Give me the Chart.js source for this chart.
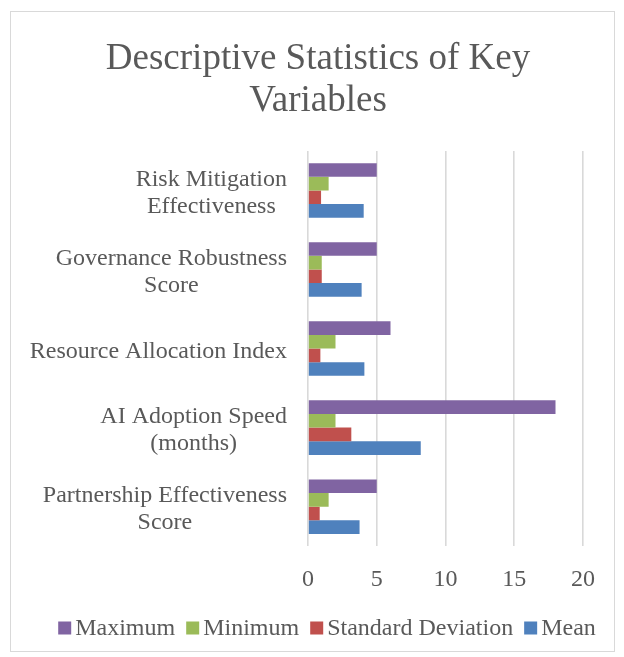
<!DOCTYPE html>
<html>
<head>
<meta charset="utf-8">
<script src="https://cdn.jsdelivr.net/npm/chart.js@4/dist/chart.umd.min.js"></script>
<style>
  html, body { margin: 0; padding: 0; background: #fff; }
  .card {
    position: absolute;
    left: 10px; top: 11px;
    width: 603px; height: 639px;
    border: 1px solid #d9d9d9;
  }
</style>
</head>
<body>
<div class="card">
  <canvas id="chart" width="603" height="639"></canvas>
</div>
<script>
  // categories, top to bottom as shown
  let categories = [
    ["Risk Mitigation", "Effectiveness"],
    ["Governance Robustness", "Score"],
    "Resource Allocation Index",
    ["AI Adoption Speed", "(months)"],
    ["Partnership Effectiveness", "Score"]
  ];

  let maximum = [5, 5, 6, 18, 5];
  let minimum = [1.5, 1, 2, 2, 1.5];
  let stdDeviation = [0.95, 1, 0.9, 3.15, 0.85];
  let mean = [4.05, 3.9, 4.1, 8.2, 3.75];

  let xTicks = [0, 5, 10, 15, 20];

  //set colors
  let maximumColor = "#8064A2";
  let minimumColor = "#9BBB59";
  let stdDeviationColor = "#C0504D";
  let meanColor = "#4F81BD";
  let textColor = "#595959";
  let serif = '"Liberation Serif", "Times New Roman", serif';

  // excel style labels: each label's lines centred on each other, widest line right aligned
  const categoryLabels = {
    id: "categoryLabels",
    afterDraw(chart) {
      const scale = chart.scales.y;
      const ctx = chart.ctx;
      const lineHeight = 27;
      ctx.save();
      ctx.font = "24px " + serif;
      ctx.fillStyle = textColor;
      ctx.textAlign = "center";
      ctx.textBaseline = "middle";
      categories.forEach((label, i) => {
        const lines = [].concat(label);
        const widest = Math.max(...lines.map(l => ctx.measureText(l).width));
        const cx = scale.right - 21 - widest / 2;
        const cy = scale.getPixelForTick(i) + 3;
        lines.forEach((l, j) => {
          ctx.fillText(l, cx, cy + (j - (lines.length - 1) / 2) * lineHeight);
        });
      });
      ctx.restore();
    }
  };

  // legend drawn in one row with the small excel gap between box and text
  const rowLegend = {
    id: "rowLegend",
    afterDraw(chart) {
      const ctx = chart.ctx;
      const sets = chart.data.datasets;
      const box = 13, gap = 4, itemGap = 11;
      ctx.save();
      ctx.font = "24px " + serif;
      ctx.textBaseline = "middle";
      ctx.textAlign = "left";
      let total = 0;
      sets.forEach((ds, i) => {
        total += box + gap + ctx.measureText(ds.label).width + (i < sets.length - 1 ? itemGap : 0);
      });
      let x = 316 - total / 2;
      const y = 616;
      sets.forEach(ds => {
        ctx.fillStyle = ds.backgroundColor;
        ctx.fillRect(x, y - box / 2, box, box);
        x += box + gap;
        ctx.fillStyle = textColor;
        ctx.fillText(ds.label, x, y + 1);
        x += ctx.measureText(ds.label).width + itemGap;
      });
      ctx.restore();
    }
  };

  const ctx = document.getElementById("chart");

  let data = {
    labels: categories,
    datasets: [
      { label: "Maximum", data: maximum, backgroundColor: maximumColor },
      { label: "Minimum", data: minimum, backgroundColor: minimumColor },
      { label: "Standard Deviation", data: stdDeviation, backgroundColor: stdDeviationColor },
      { label: "Mean", data: mean, backgroundColor: meanColor }
    ]
  };

  new Chart(ctx, {
    type: "bar",
    data: data,
    plugins: [categoryLabels, rowLegend],
    options: {
      indexAxis: "y",
      responsive: false,
      animation: false,
      datasets: {
        bar: { barPercentage: 1, categoryPercentage: 0.69 }
      },
      layout: { padding: { left: 36, right: 25, top: 4, bottom: 38 } },
      scales: {
        x: {
          min: 0,
          max: 20,
          afterBuildTicks(scale) {
            scale.ticks = xTicks.map(v => ({ value: v }));
          },
          grid: { color: "#d9d9d9", lineWidth: 1.6, drawTicks: false },
          border: { display: false },
          ticks: {
            color: textColor,
            font: { family: serif, size: 24 },
            padding: 19
          }
        },
        y: {
          grid: { display: false },
          border: { display: false },
          afterFit(scale) { scale.width = 261; },
          ticks: { color: "transparent", font: { family: serif, size: 21 } }
        }
      },
      plugins: {
        title: {
          display: true,
          text: ["Descriptive Statistics of Key", "Variables"],
          color: textColor,
          font: { family: serif, size: 37, weight: "normal", lineHeight: 1.12 },
          padding: { top: 23, bottom: 29 }
        },
        legend: { display: false },
        tooltip: { enabled: false }
      }
    }
  });
</script>
</body>
</html>
